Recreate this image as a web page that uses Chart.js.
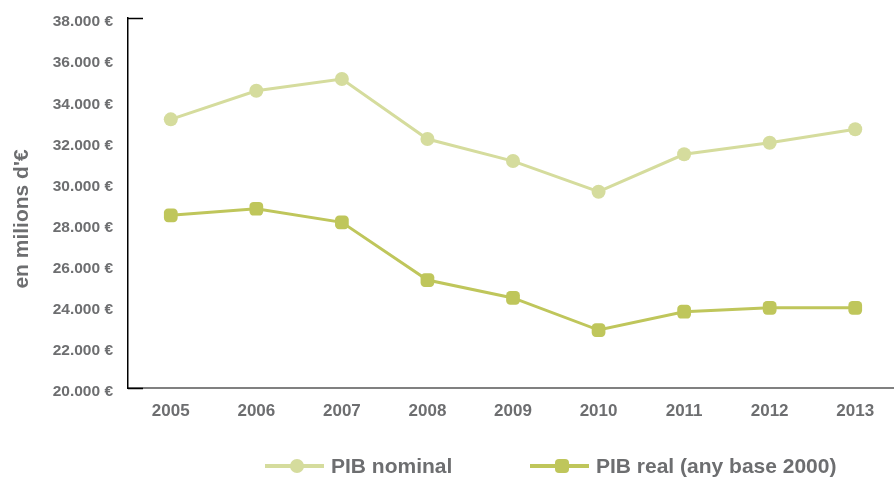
<!DOCTYPE html>
<html>
<head>
<meta charset="utf-8">
<script src="https://cdn.jsdelivr.net/npm/chart.js@4.4.0/dist/chart.umd.min.js"></script>
<style>
  html, body { margin: 0; padding: 0; background: #fff; overflow: hidden; }
  #wrap { position: relative; width: 894px; height: 478px; overflow: hidden; }
  #box { position: absolute; left: 0; top: 0; width: 906px; height: 478px; }
  .leg { position: absolute; top: 452px; height: 28px; font: bold 21px "Liberation Sans", Arial, sans-serif; color: #6d6e70; line-height: 28px; white-space: nowrap; }
  .leg .ln { position: absolute; top: 12px; width: 59px; height: 4px; }
  .leg .mk { position: absolute; top: 7px; left: 25px; width: 14px; height: 14px; }
  .leg .tx { position: absolute; left: 66px; top: 0; }
</style>
</head>
<body>
<div id="wrap">
  <div id="box"><canvas id="myChart"></canvas></div>
  <div id="legend"></div>
</div>
<script>
const years = ['2005', '2006', '2007', '2008', '2009', '2010', '2011', '2012', '2013']
const pibNominal = [33070, 34460, 35030, 32110, 31040, 29550, 31370, 31930, 32590]
const pibReal = [28400, 28720, 28060, 25250, 24380, 22820, 23710, 23900, 23900]
const seriesNames = ['PIB nominal', 'PIB real (any base 2000)']
const yTicks = [20000, 22000, 24000, 26000, 28000, 30000, 32000, 34000, 36000, 38000]
const yTitle = "en milions d'€"

const colNominal = '#d5dc9d'
const colReal = '#bfc65b'
const grey = '#6d6e70'
const fontFam = '"Liberation Sans", Arial, sans-serif'

const euro = v => String(v).replace(/\B(?=(\d{3})+(?!\d))/g, '.') + ' €'

// little black ticks at top and bottom of the y axis + the rotated axis title
const axisExtras = {
    id: 'axisExtras',
    afterDraw(chart) {
        const c = chart.ctx
        const y = chart.scales.y
        const left = chart.chartArea.left
        c.save()
        c.strokeStyle = '#000'
        c.lineWidth = 1.5
        ;[yTicks[yTicks.length - 1], yTicks[0]].forEach(v => {
            const py = Math.round(y.getPixelForValue(v)) + 0.5
            c.beginPath()
            c.moveTo(left, py)
            c.lineTo(left + 15, py)
            c.stroke()
        })
        c.translate(22, 219)
        c.rotate(-Math.PI / 2)
        c.fillStyle = grey
        c.font = 'bold 21px ' + fontFam
        c.textAlign = 'center'
        c.textBaseline = 'middle'
        c.fillText(yTitle, 0, 0)
        c.restore()
    }
}

const ctx = document.getElementById('myChart').getContext('2d');
new Chart(ctx, {
    type: 'line',
    data: {
        labels: years,
        datasets: [{
            label: seriesNames[0],
            data: pibNominal,
            borderColor: colNominal,
            backgroundColor: colNominal,
            borderWidth: 3,
            pointStyle: 'circle',
            pointRadius: 7,
            pointBorderWidth: 0,
            tension: 0
        }, {
            label: seriesNames[1],
            data: pibReal,
            borderColor: colReal,
            backgroundColor: colReal,
            borderWidth: 3,
            pointStyle: 'rectRounded',
            pointRadius: 8,
            pointBorderWidth: 0,
            tension: 0
        }]
    },
    options: {
        responsive: true,
        maintainAspectRatio: false,
        animation: false,
        events: [],
        layout: { padding: { top: 18, left: 0, right: 0, bottom: 0 } },
        plugins: {
            legend: { display: false },
            tooltip: { enabled: false }
        },
        scales: {
            x: {
                offset: true,
                grid: { display: false, drawTicks: false },
                border: { display: true, color: '#808080', width: 2 },
                ticks: {
                    padding: 13,
                    color: grey,
                    font: { family: fontFam, size: 17, weight: 'bold' }
                },
                afterFit: s => { s.height = 90 }
            },
            y: {
                min: 20000,
                max: 38000,
                afterBuildTicks: s => { s.ticks = yTicks.map(v => ({ value: v })) },
                grid: { display: false, drawTicks: false },
                border: { display: true, color: '#000', width: 1.5 },
                ticks: {
                    padding: 15,
                    labelOffset: 4,
                    color: grey,
                    callback: v => euro(v),
                    font: { family: fontFam, size: 15.5, weight: 'bold' }
                },
                afterFit: s => {
                    s.width = 128
                    s.paddingTop = 0
                    s.paddingBottom = 0
                }
            }
        }
    },
    plugins: [axisExtras]
})

// legend: line with marker, as in the original
const legItems = [
    { x: 265, name: seriesNames[0], color: colNominal, radius: '50%' },
    { x: 530, name: seriesNames[1], color: colReal, radius: '4px' }
]
const legend = document.getElementById('legend')
legItems.forEach(it => {
    const d = document.createElement('div')
    d.className = 'leg'
    d.style.left = it.x + 'px'
    d.innerHTML = '<span class="ln" style="background:' + it.color + '"></span>' +
        '<span class="mk" style="background:' + it.color + ';border-radius:' + it.radius + '"></span>' +
        '<span class="tx">' + it.name + '</span>'
    legend.appendChild(d)
})
</script>
</body>
</html>
